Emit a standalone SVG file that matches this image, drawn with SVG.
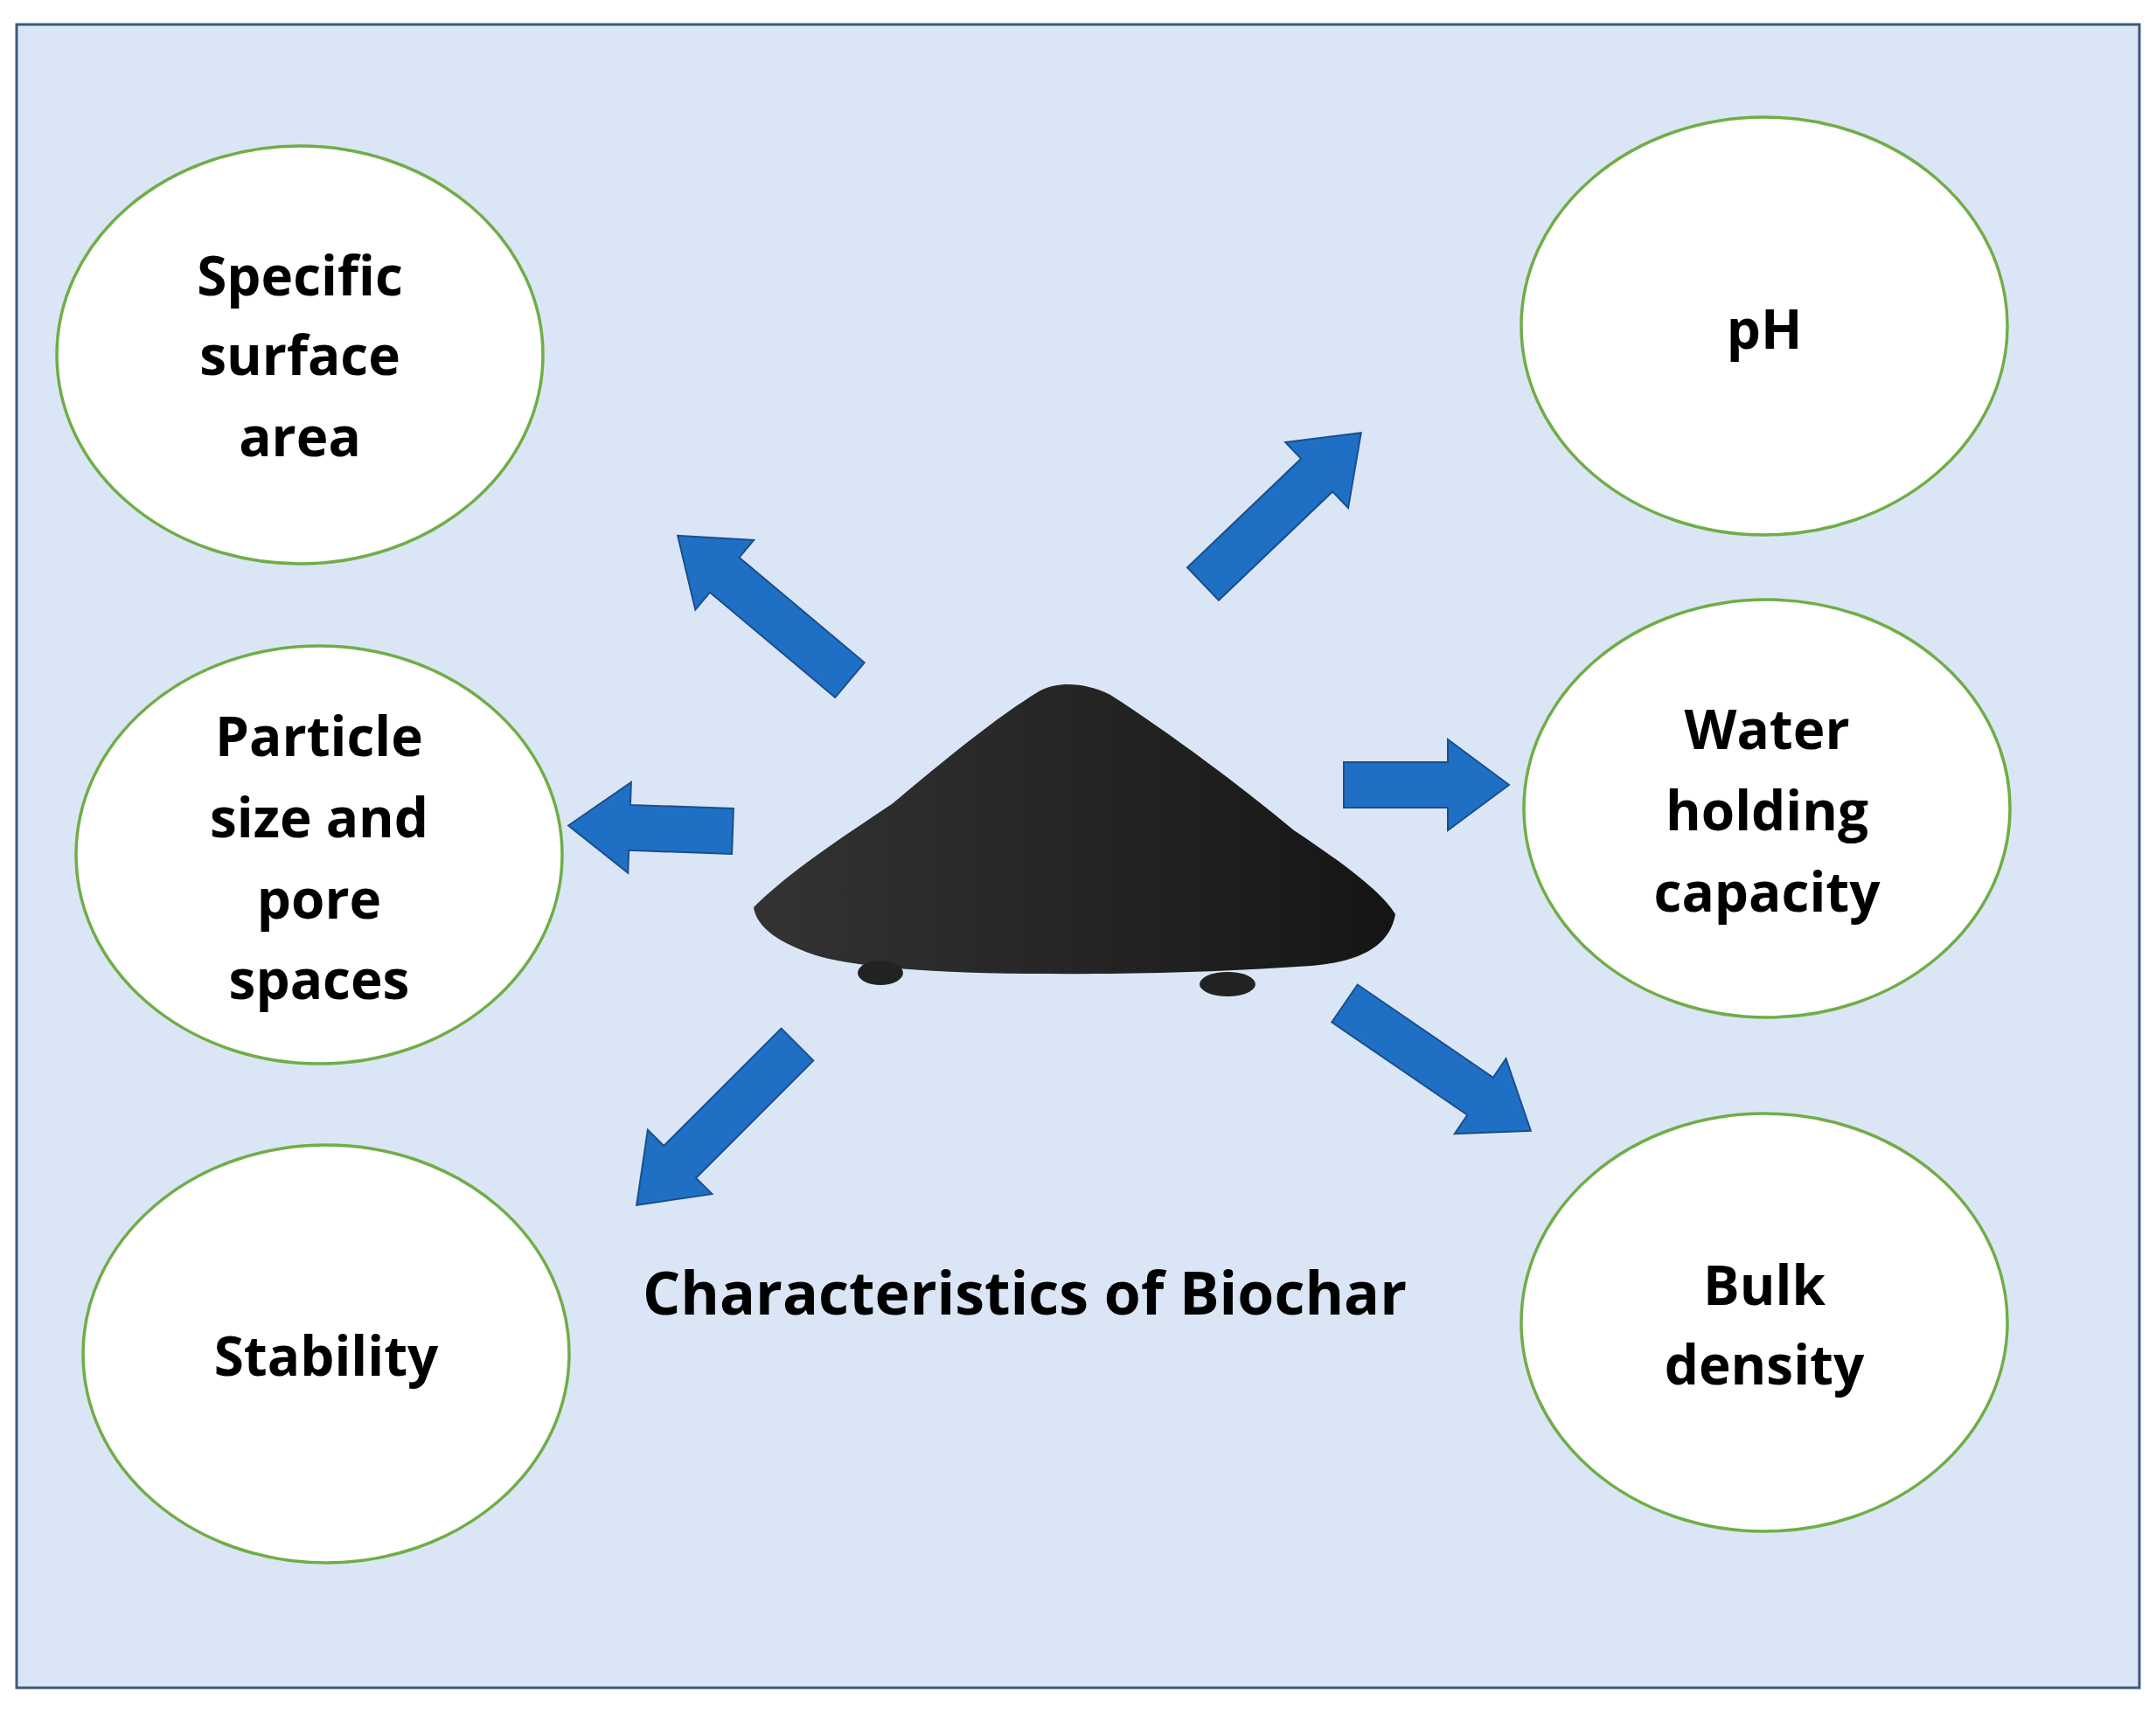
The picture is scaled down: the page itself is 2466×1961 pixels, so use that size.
<svg xmlns="http://www.w3.org/2000/svg" width="2466" height="1961" viewBox="0 0 2466 1961">
<style>
.n{fill:#fff;stroke:#70ad47;stroke-width:3.5}
.t{font-family:"Open Sans","Liberation Sans",sans-serif;font-weight:bold;font-size:62px;fill:#000;text-anchor:middle}
.a{fill:#1f6fc5;stroke:#1a4f8c;stroke-width:2}
</style>
<defs>
<linearGradient id="g" x1="0" x2="1" y1="0" y2="0"><stop offset="0" stop-color="#333"/><stop offset="0.6" stop-color="#222"/><stop offset="1" stop-color="#151515"/></linearGradient>
</defs>
<rect x="0" y="0" width="2466" height="1961" fill="#fff"/>
<rect x="19" y="28" width="2428" height="1903" fill="#dae6f5" stroke="#3b5a7e" stroke-width="3"/>
<g id="biochar">
<path d="M862,1038 C900,1000 960,960 1020,920 C1080,870 1140,820 1190,790 C1210,780 1240,780 1270,795 C1340,840 1420,900 1480,950 C1540,990 1580,1020 1596,1046 C1590,1080 1560,1100 1500,1105 C1400,1112 1300,1115 1200,1114 C1100,1114 1000,1110 940,1095 C890,1080 865,1060 862,1038 Z" fill="url(#g)"/>
<ellipse cx="1007" cy="1113" rx="26" ry="14" fill="#222"/>
<ellipse cx="1404" cy="1126" rx="32" ry="14" fill="#222"/>
</g>
<g id="connectors">
<path class="a" transform="translate(972,778) rotate(220)" d="M0,-26 L187,-26 L187,-52 L257,0 L187,52 L187,26 L0,26 Z"/>
<path class="a" transform="translate(1376,668) rotate(-43.7)" d="M0,-26 L180,-26 L180,-52 L250,0 L180,52 L180,26 L0,26 Z"/>
<path class="a" transform="translate(838,951) rotate(182)" d="M0,-26 L118,-26 L118,-52 L188,0 L118,52 L118,26 L0,26 Z"/>
<path class="a" transform="translate(1537,898)" d="M0,-26 L119,-26 L119,-52 L189,0 L119,52 L119,26 L0,26 Z"/>
<path class="a" transform="translate(912,1195) rotate(135)" d="M0,-26 L190,-26 L190,-52 L260,0 L190,52 L190,26 L0,26 Z"/>
<path class="a" transform="translate(1538,1148) rotate(34.4)" d="M0,-26 L188,-26 L188,-52 L258,0 L188,52 L188,26 L0,26 Z"/>
</g>
<g id="n1"><ellipse class="n" cx="343" cy="406" rx="278" ry="239"/><text class="t" x="343" y="338">Specific</text><text class="t" x="343" y="429">surface</text><text class="t" x="343" y="522">area</text></g>
<g id="n2"><ellipse class="n" cx="365" cy="978" rx="278" ry="239"/><text class="t" x="365" y="865">Particle</text><text class="t" x="365" y="958">size and</text><text class="t" x="365" y="1051">pore</text><text class="t" x="365" y="1143">spaces</text></g>
<g id="n3"><ellipse class="n" cx="373" cy="1549" rx="278" ry="239"/><text class="t" x="373" y="1574">Stability</text></g>
<g id="n4"><ellipse class="n" cx="2018" cy="373" rx="278" ry="239"/><text class="t" x="2018" y="399">pH</text></g>
<g id="n5"><ellipse class="n" cx="2021" cy="925" rx="278" ry="239"/><text class="t" x="2021" y="857">Water</text><text class="t" x="2021" y="950">holding</text><text class="t" x="2021" y="1043">capacity</text></g>
<g id="n6"><ellipse class="n" cx="2018" cy="1513" rx="278" ry="239"/><text class="t" x="2018" y="1493">Bulk</text><text class="t" x="2018" y="1584">density</text></g>
<text class="t" x="1172" y="1504" style="font-size:68px">Characteristics of Biochar</text>
</svg>
